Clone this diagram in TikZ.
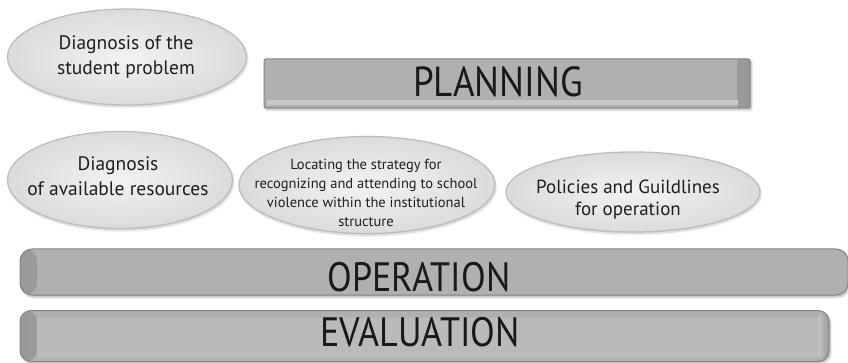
\documentclass[tikz,border=0pt]{standalone}
\usepackage{fontspec}
\setmainfont{PT Sans}
\newfontfamily\titlefont[FakeStretch=0.88]{PT Sans}
\usetikzlibrary{shapes.geometric, shadows.blur, calc}

\begin{document}
\begin{tikzpicture}[
    x = 1pt, y = -1pt,
    bubble/.style = {ellipse,
      draw = black!26,
      line width = 1.3pt,
      inner color = black!5,
      outer color = black!14,
      blur shadow = {shadow xshift = 1pt, shadow yshift = -2pt,
        shadow opacity = 20, shadow blur steps = 6}},
    bubbletext/.style = {align = center,
      text = black!88,
      inner sep = 0pt,
      font = \fontsize{19.5}{25}\selectfont},
    bar/.style = {rectangle,
      draw = black!48,
      line width = 1pt,
      fill = black!31,
      blur shadow = {shadow xshift = 1.5pt, shadow yshift = -2pt,
        shadow opacity = 30, shadow blur steps = 6}},
    leftcap/.style = {path picture = {
        \shade [left color = black!40, right color = black!22]
        (path picture bounding box.south west) rectangle
        ([xshift = 17pt] path picture bounding box.north west);}},
    rightcap/.style = {path picture = {
        \shade [left color = black!22, right color = black!40]
        (path picture bounding box.south east) rectangle
        ([xshift = -13pt] path picture bounding box.north east);}},
    bothcaps/.style = {path picture = {
        \shade [left color = black!40, right color = black!22]
        (path picture bounding box.south west) rectangle
        ([xshift = 17pt] path picture bounding box.north west);
        \shade [left color = black!22, right color = black!40]
        (path picture bounding box.south east) rectangle
        ([xshift = -12pt] path picture bounding box.north east);}},
    bartext/.style = {text = black!90,
      inner sep = 0pt,
      font = \titlefont\fontsize{41}{41}\selectfont}
    ]
    \useasboundingbox (0, 0) rectangle (848, 363);

    % the four ellipses
    \node at (127, 57) [bubble, minimum width = 239pt, minimum height = 96pt, name = studentprob] {};
    \node at (120, 180) [bubble, minimum width = 225pt, minimum height = 97pt, name = resources] {};
    \node at (367, 185) [bubble, minimum width = 256pt, minimum height = 97pt, name = strategy] {};
    \node at (633, 192) [bubble, minimum width = 254pt, minimum height = 80pt, name = policies] {};

    \node at (126, 57) [bubbletext, name = studentprobtext] {Diagnosis of the\\student problem};
    \node at (118, 176) [bubbletext, name = resourcestext] {Diagnosis\\of available resources};
    \node at (366, 193) [bubbletext, font = \fontsize{14.5}{19}\selectfont, name = strategytext]
    {Locating the strategy for\\recognizing and attending to school\\violence within the institutional\\structure};
    \node at (628, 200) [bubbletext, font = \fontsize{19}{22}\selectfont, name = policiestext] {Policies and Guildlines\\for operation};

    % the three bars
    \node at (507, 83.5) [bar, rightcap, rounded corners = 2pt,
      minimum width = 486pt, minimum height = 49pt, name = planning] {};
    \fill [black!22] ([xshift = 3pt, yshift = 3pt] planning.south west)
    rectangle ([xshift = -13pt, yshift = 8pt] planning.south east);

    \node at (434, 272) [bar, leftcap, rounded corners = 12pt,
      minimum width = 828pt, minimum height = 46pt, name = operation] {};

    \node at (424.5, 336) [bar, bothcaps, rounded corners = 11pt,
      minimum width = 809pt, minimum height = 51pt, name = evaluation] {};
    \fill [black!27] ([xshift = 17pt, yshift = 4pt] evaluation.south west)
    rectangle ([xshift = -12pt, yshift = -8pt] evaluation.north east);

    \node at (498, 82) [bartext, font = \titlefont\fontsize{42}{42}\selectfont, name = planningtext] {PLANNING};
    \node at (419, 277) [bartext, name = operationtext] {OPERATION};
    \node at (420, 332) [bartext, name = evaluationtext] {EVALUATION};
  \end{tikzpicture}
\end{document}
